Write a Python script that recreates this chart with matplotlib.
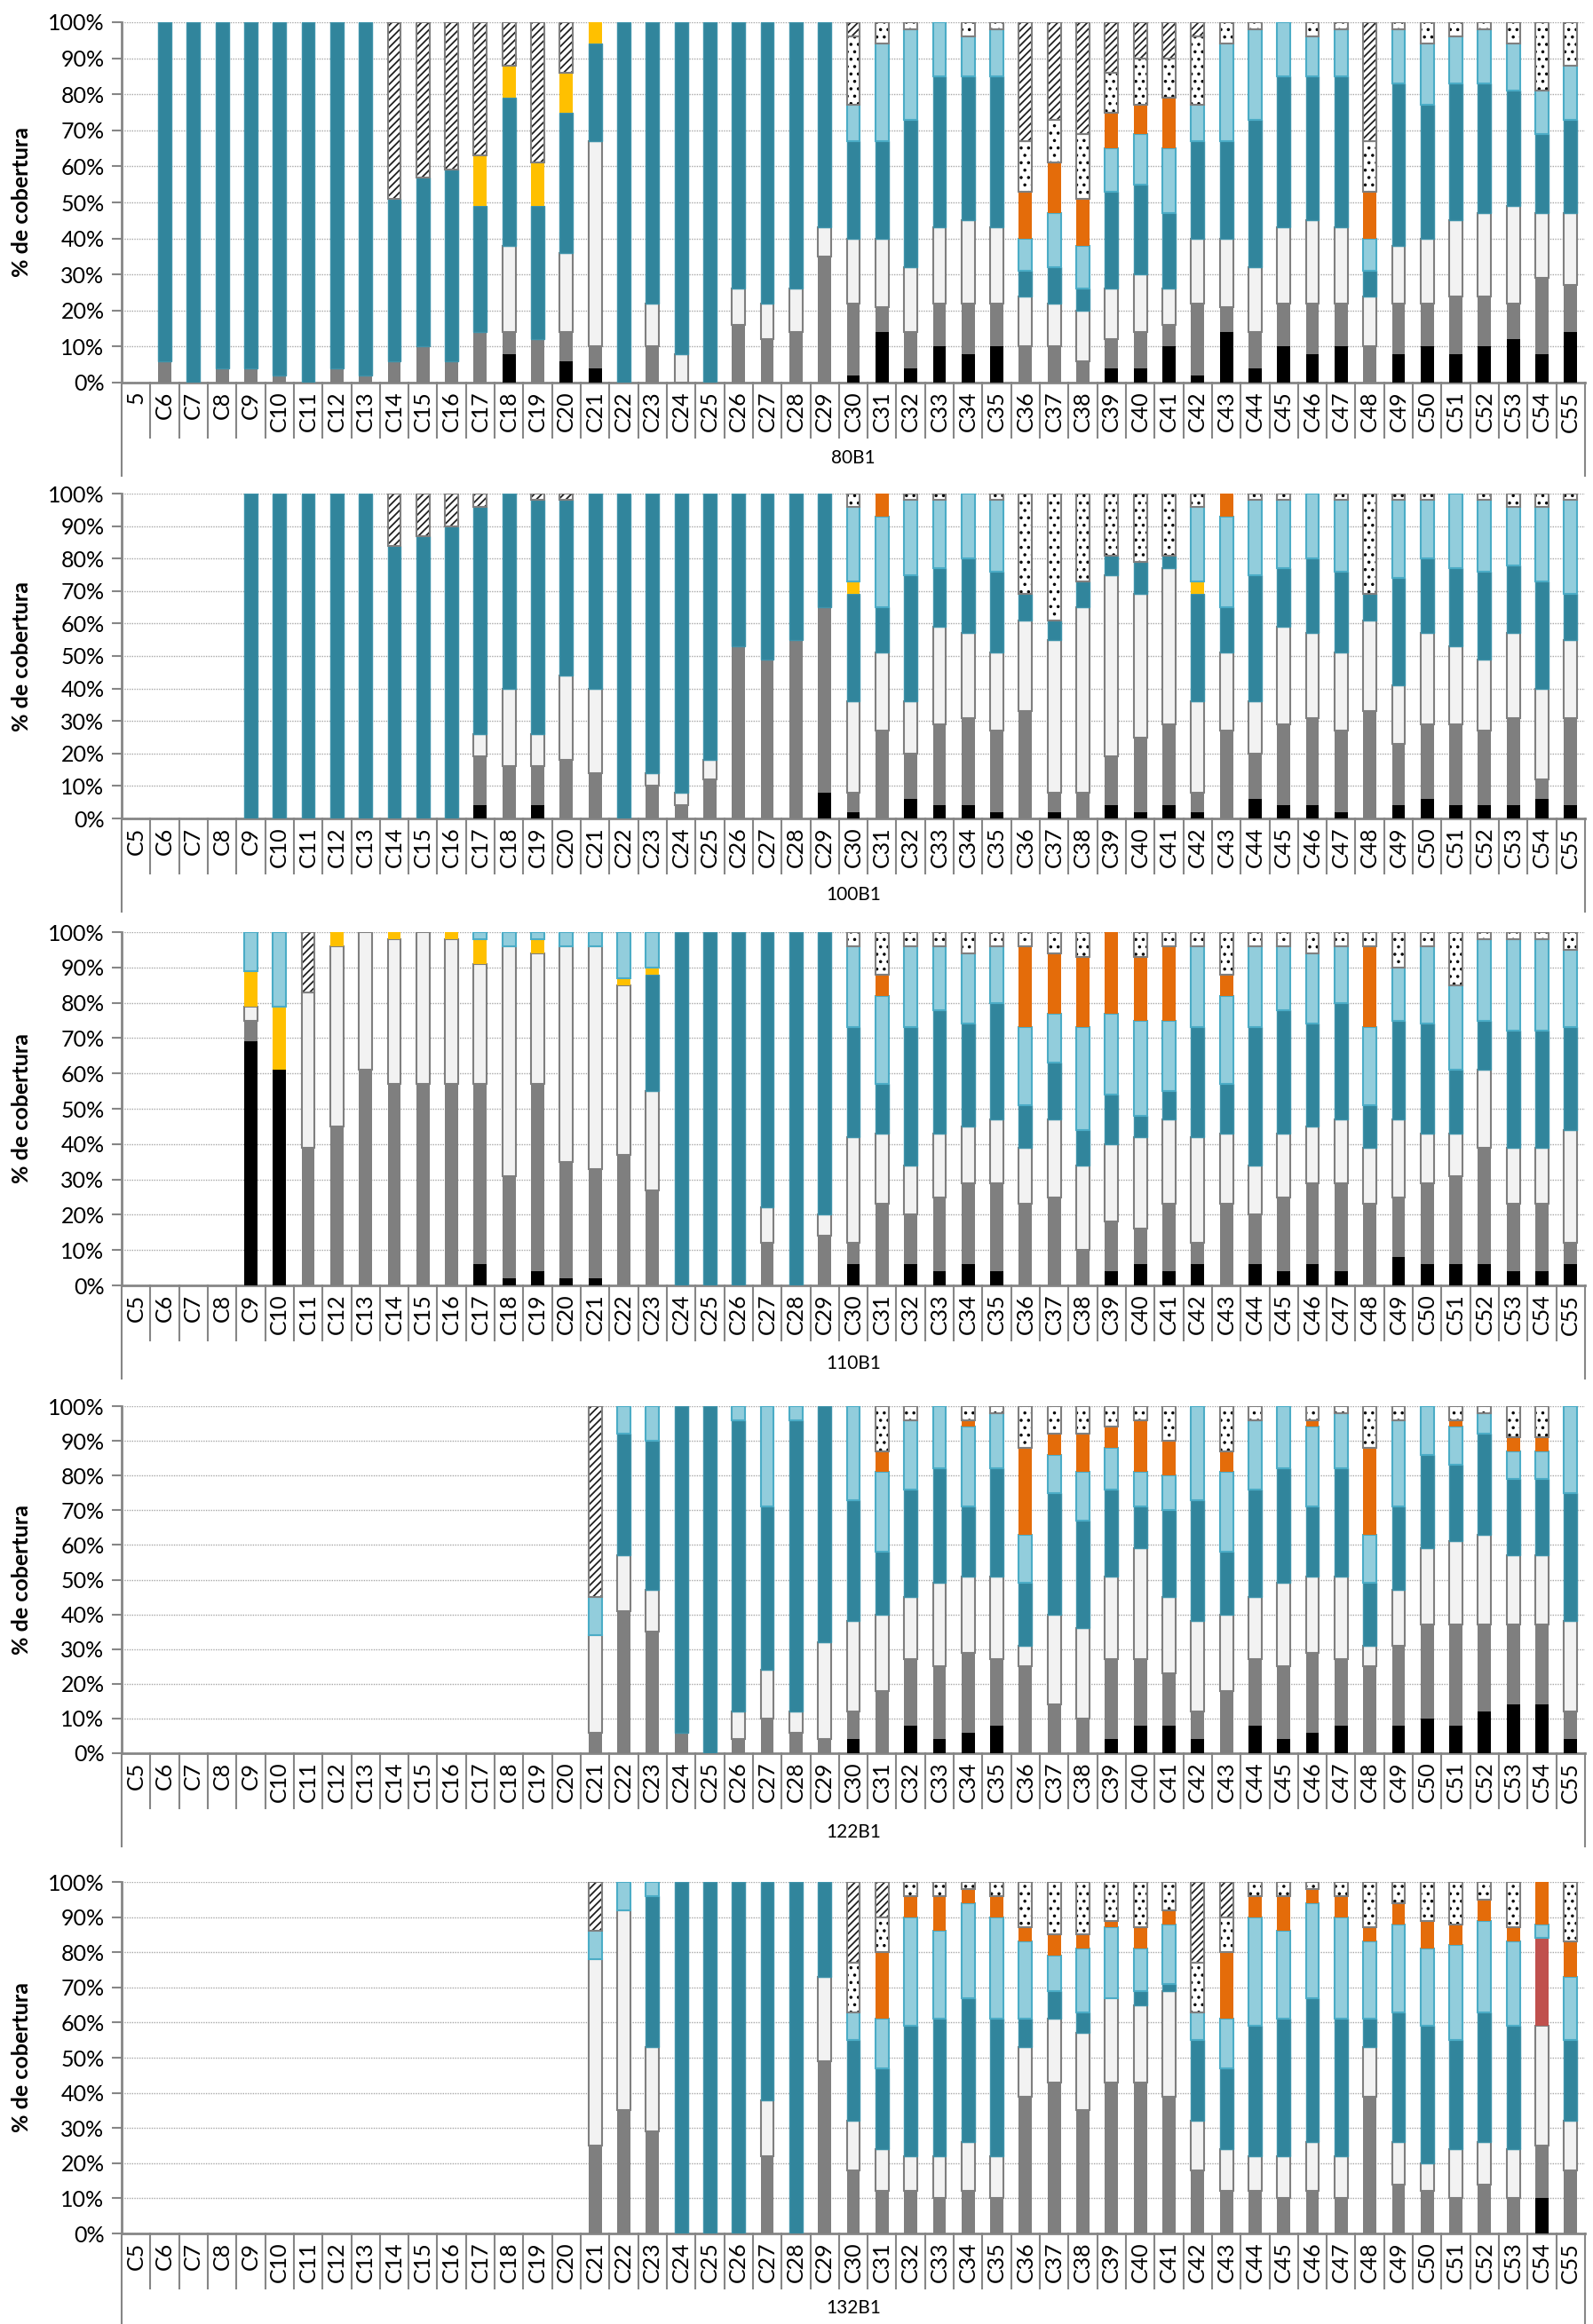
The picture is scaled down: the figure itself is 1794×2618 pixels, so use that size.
import numpy as np
import matplotlib
matplotlib.use('Agg')
import matplotlib.pyplot as plt
from matplotlib import transforms
from matplotlib.lines import Line2D

plt.rcParams['font.family'] = ['Lato', 'DejaVu Sans']
plt.rcParams['hatch.linewidth'] = 1.3

# ---------------- data ----------------
categories = [f"C{i}" for i in range(5, 56)]
groups = ['80B1', '100B1', '110B1', '122B1', '132B1']
ylabel_text = '% de cobertura'

# Panel 1 (80B1)
p1_black = [0]*13 + [8, 0, 6, 4] + [0]*8 + [2, 14, 4, 10, 8, 10, 0, 0, 0, 4, 4, 10, 2, 14, 4, 10, 8, 10, 0, 8, 10, 8, 10, 12, 8, 14]
p1_gray = [0, 6, 0, 4, 4, 2, 0, 4, 2, 6, 10, 6, 14, 6, 12, 8, 6, 0, 10, 0, 0, 16, 12, 14, 35] + [20, 7, 10, 12, 14, 12, 10, 10, 6, 8, 10, 6, 20, 7, 10, 12, 14, 12, 10, 14, 12, 16, 14, 10, 21, 13]
p1_white = [0]*13 + [24, 0, 22, 57] + [0, 12, 8, 0, 10, 10, 12, 8] + [18, 19, 18, 21, 23, 21, 14, 12, 14, 14, 16, 10, 18, 19, 18, 21, 23, 21, 14, 16, 18, 21, 23, 27, 18, 20]
p1_teal = [0, 94, 100, 96, 96, 98, 100, 96, 98, 45, 47, 53, 35, 41, 37, 39, 27, 100, 78, 92, 100, 74, 78, 74, 57] + [27, 27, 41, 42, 40, 42, 7, 10, 6, 27, 25, 21, 27, 27, 41, 42, 40, 42, 7, 45, 37, 38, 36, 32, 22, 26]
p1_yellow = [0]*12 + [14, 9, 12, 11, 6] + [0]*8 + [0]*26
p1_lblue = [0]*25 + [10, 27, 25, 15, 11, 13, 9, 15, 12, 12, 14, 18, 10, 27, 25, 15, 11, 13, 9, 15, 17, 13, 15, 13, 12, 15]
p1_orange = [0]*31 + [13, 14, 13, 10, 8, 14] + [0]*6 + [13] + [0]*7
p1_dots = [0]*25 + [19, 6, 2, 0, 4, 2, 14, 12, 18, 11, 13, 11, 19, 6, 2, 0, 4, 2, 14, 2, 6, 4, 2, 6, 19, 12]
p1_hatch = [0]*9 + [49, 43, 41, 37, 12, 39, 14, 0] + [0]*8 + [4, 0, 0, 0, 0, 0, 33, 27, 31, 14, 10, 10, 4, 0, 0, 0, 0, 0, 33, 0, 0, 0, 0, 0, 0, 0]

# Panel 2 (100B1)
p2_black = [0]*12 + [4, 0, 4] + [0]*9 + [8] + [2, 0, 6, 4, 4, 2, 0, 2, 0, 4, 2, 4, 2, 0, 6, 4, 4, 2, 0, 4, 6, 4, 4, 4, 6, 4]
p2_gray = [0]*12 + [15, 16, 12, 18, 14, 0, 10, 4, 12, 53, 49, 55, 57] + [6, 27, 14, 25, 27, 25, 33, 6, 8, 15, 23, 25, 6, 27, 14, 25, 27, 25, 33, 19, 23, 25, 23, 27, 6, 27]
p2_white = [0]*12 + [7, 24, 10, 26, 26, 0, 4, 4, 6, 0, 0, 0, 0] + [28, 24, 16, 30, 26, 24, 28, 47, 57, 56, 44, 48, 28, 24, 16, 30, 26, 24, 28, 18, 28, 24, 22, 26, 28, 24]
p2_teal = [0]*4 + [100, 100, 100, 100, 100, 84, 87, 90, 70, 60, 72, 54, 60, 100, 86, 92, 82, 47, 51, 45, 35] + [33, 14, 39, 18, 23, 25, 8, 6, 8, 6, 10, 4, 33, 14, 39, 18, 23, 25, 8, 33, 23, 24, 27, 21, 33, 14]
p2_yellow = [0]*25 + [4] + [0]*11 + [4] + [0]*13
p2_lblue = [0]*25 + [23, 28, 23, 21, 20, 22, 0, 0, 0, 0, 0, 0, 23, 28, 23, 21, 20, 22, 0, 24, 18, 23, 22, 18, 23, 29]
p2_orange = [0]*26 + [7] + [0]*11 + [7] + [0]*12
p2_dots = [0]*25 + [4, 0, 2, 2, 0, 2, 31, 39, 27, 19, 21, 19, 4, 0, 2, 2, 0, 2, 31, 2, 2, 0, 2, 4, 4, 2]
p2_hatch = [0]*9 + [16, 13, 10, 4, 0, 2, 2] + [0]*35

# Panel 3 (110B1)
p3_black = [0]*4 + [69, 61, 0, 0, 0, 0, 0, 0, 6, 2, 4, 2, 2] + [0]*8 + [6, 0, 6, 4, 6, 4, 0, 0, 0, 4, 6, 4, 6, 0, 6, 4, 6, 4, 0, 8, 6, 6, 6, 4, 4, 6]
p3_gray = [0]*4 + [6, 0, 39, 45, 61, 57, 57, 57, 51, 29, 53, 33, 31, 37, 27, 0, 0, 0, 12, 0, 14] + [6, 23, 14, 21, 23, 25, 23, 25, 10, 14, 10, 19, 6, 23, 14, 21, 23, 25, 23, 17, 23, 25, 33, 19, 19, 6]
p3_white = [0]*4 + [4, 0, 44, 51, 39, 41, 43, 41, 34, 65, 37, 61, 63, 48, 28, 0, 0, 0, 10, 0, 6] + [30, 20, 14, 18, 16, 18, 16, 22, 24, 22, 26, 24, 30, 20, 14, 18, 16, 18, 16, 22, 14, 12, 22, 16, 16, 32]
p3_teal = [0]*18 + [33, 100, 100, 100, 78, 100, 80] + [31, 14, 39, 35, 29, 33, 12, 16, 10, 14, 6, 8, 31, 14, 39, 35, 29, 33, 12, 28, 31, 18, 14, 33, 33, 29]
p3_yellow = [0]*4 + [10, 18, 0, 4, 0, 2, 0, 2, 7, 0, 4, 0, 0, 2, 2] + [0]*32
p3_lblue = [0]*4 + [11, 21, 0, 0, 0, 0, 0, 0, 2, 4, 2, 4, 4, 13, 10] + [0]*6 + [23, 25, 23, 18, 20, 16, 22, 14, 29, 23, 27, 20, 23, 25, 23, 18, 20, 16, 22, 15, 22, 24, 23, 26, 26, 22]
p3_orange = [0]*26 + [6, 0, 0, 0, 0, 23, 17, 20, 23, 18, 21, 0, 6, 0, 0, 0, 0, 23, 0, 0, 0, 0, 0, 0, 0]
p3_dots = [0]*25 + [4, 12, 4, 4, 6, 4, 4, 6, 7, 0, 7, 4, 4, 12, 4, 4, 6, 4, 4, 10, 4, 15, 2, 2, 2, 5]
p3_hatch = [0]*6 + [17] + [0]*44

# Panel 4 (122B1)
p4_black = [0]*25 + [4, 0, 8, 4, 6, 8, 0, 0, 0, 4, 8, 8, 4, 0, 8, 4, 6, 8, 0, 8, 10, 8, 12, 14, 14, 4]
p4_gray = [0]*16 + [6, 41, 35, 6, 0, 4, 10, 6, 4] + [8, 18, 19, 21, 23, 19, 25, 14, 10, 23, 19, 15, 8, 18, 19, 21, 23, 19, 25, 23, 27, 29, 25, 23, 23, 8]
p4_white = [0]*16 + [28, 16, 12, 0, 0, 8, 14, 6, 28] + [26, 22, 18, 24, 22, 24, 6, 26, 26, 24, 32, 22, 26, 22, 18, 24, 22, 24, 6, 16, 22, 24, 26, 20, 20, 26]
p4_teal = [0]*16 + [0, 35, 43, 94, 100, 84, 47, 84, 68] + [35, 18, 31, 33, 20, 31, 18, 35, 31, 25, 12, 25, 35, 18, 31, 33, 20, 31, 18, 24, 27, 22, 29, 22, 22, 37]
p4_lblue = [0]*16 + [11, 8, 10, 0, 0, 4, 29, 4, 0] + [27, 23, 20, 18, 23, 16, 14, 11, 14, 12, 10, 10, 27, 23, 20, 18, 23, 16, 14, 25, 14, 11, 6, 8, 8, 25]
p4_orange = [0]*26 + [6, 0, 0, 2, 0, 25, 6, 11, 6, 15, 10, 0, 6, 0, 0, 2, 0, 25, 0, 0, 2, 0, 4, 4, 0]
p4_dots = [0]*25 + [0, 13, 4, 0, 4, 2, 12, 8, 8, 6, 4, 10, 0, 13, 4, 0, 4, 2, 12, 4, 0, 4, 2, 9, 9, 0]
p4_hatch = [0]*16 + [55] + [0]*34

# Panel 5 (132B1)
p5_black = [0]*49 + [10, 0]
p5_gray = [0]*16 + [25, 35, 29, 0, 0, 0, 22, 0, 49] + [18, 12, 12, 10, 12, 10, 39, 43, 35, 43, 43, 39, 18, 12, 12, 10, 12, 10, 39, 14, 12, 10, 14, 10, 15, 18]
p5_white = [0]*16 + [53, 57, 24, 0, 0, 0, 16, 0, 24] + [14, 12, 10, 12, 14, 12, 14, 18, 22, 24, 22, 30, 14, 12, 10, 12, 14, 12, 14, 12, 8, 14, 12, 14, 34, 14]
p5_teal = [0]*16 + [0, 0, 43, 100, 100, 100, 62, 100, 27] + [23, 23, 37, 39, 41, 39, 8, 8, 6, 0, 4, 2, 23, 23, 37, 39, 41, 39, 8, 37, 39, 31, 37, 35, 0, 23]
p5_red = [0]*49 + [25, 0]
p5_lblue = [0]*16 + [8, 8, 4, 0, 0, 0, 0, 0, 0] + [8, 14, 31, 25, 27, 29, 22, 10, 18, 20, 12, 17, 8, 14, 31, 25, 27, 29, 22, 25, 22, 27, 26, 24, 4, 18]
p5_orange = [0]*26 + [19, 6, 10, 4, 6, 4, 6, 4, 2, 6, 4, 0, 19, 6, 10, 4, 6, 4, 6, 8, 6, 6, 4, 12, 10]
p5_dots = [0]*25 + [14, 10, 4, 4, 2, 4, 13, 15, 15, 11, 13, 8, 14, 10, 4, 4, 2, 4, 13, 6, 11, 12, 5, 13, 0, 17]
p5_hatch = [0]*16 + [14] + [0]*8 + [23, 10] + [0]*10 + [23, 10] + [0]*12

panels = [
    dict(black=p1_black, gray=p1_gray, white=p1_white, teal=p1_teal, yellow=p1_yellow,
         lblue=p1_lblue, orange=p1_orange, dots=p1_dots, hatch=p1_hatch),
    dict(black=p2_black, gray=p2_gray, white=p2_white, teal=p2_teal, yellow=p2_yellow,
         lblue=p2_lblue, orange=p2_orange, dots=p2_dots, hatch=p2_hatch),
    dict(black=p3_black, gray=p3_gray, white=p3_white, teal=p3_teal, yellow=p3_yellow,
         lblue=p3_lblue, orange=p3_orange, dots=p3_dots, hatch=p3_hatch),
    dict(black=p4_black, gray=p4_gray, white=p4_white, teal=p4_teal,
         lblue=p4_lblue, orange=p4_orange, dots=p4_dots, hatch=p4_hatch),
    dict(black=p5_black, gray=p5_gray, white=p5_white, teal=p5_teal, red=p5_red,
         lblue=p5_lblue, orange=p5_orange, dots=p5_dots, hatch=p5_hatch),
]

layer_order = ['black', 'gray', 'white', 'teal', 'red', 'yellow', 'lblue', 'orange', 'dots', 'hatch']

style = {
    'black':  dict(facecolor='#000000', edgecolor='none', linewidth=0),
    'gray':   dict(facecolor='#7f7f7f', edgecolor='none', linewidth=0),
    'white':  dict(facecolor='#f2f2f2', edgecolor='#7f7f7f', linewidth=1.5),
    'teal':   dict(facecolor='#31859c', edgecolor='#3f93aa', linewidth=1.0),
    'red':    dict(facecolor='#c0504d', edgecolor='none', linewidth=0),
    'yellow': dict(facecolor='#ffc000', edgecolor='none', linewidth=0),
    'lblue':  dict(facecolor='#92cddc', edgecolor='#4bacc6', linewidth=1.5),
    'orange': dict(facecolor='#e46c0a', edgecolor='none', linewidth=0),
    'dots':   dict(facecolor='white', edgecolor='black', linewidth=0, hatch='..'),
    'hatch':  dict(facecolor='white', edgecolor='#202020', linewidth=0, hatch='////'),
}

# ---------------- layout ----------------
W, H = 1794, 2618
fig = plt.figure(figsize=(W / 100, H / 100), dpi=100)
panel_px = [(25, 431, 516), (556, 922, 1008), (1050, 1448, 1536), (1584, 1975, 2064), (2120, 2516, 2600)]
left_px, right_px = 137, 1785
AXC = '#868686'
n = len(categories)
x = np.arange(n)
bw = 0.46

for pi, (top, bot, gy) in enumerate(panel_px):
    data = panels[pi]
    for key, arr in data.items():
        if len(arr) != n:
            raise ValueError(f"panel {pi+1} {key} has {len(arr)}")
    ax = fig.add_axes([left_px / W, 1 - bot / H, (right_px - left_px) / W, (bot - top) / H])
    bottom = np.zeros(n)
    for layer in layer_order:
        if layer not in data:
            continue
        h = np.array(data[layer], dtype=float)
        m = h > 0
        if m.any():
            ax.bar(x[m], h[m], bw, bottom=bottom[m], zorder=3, **style[layer])
            if layer in ('dots', 'hatch'):
                ax.bar(x[m], h[m], bw, bottom=bottom[m], fill=False,
                       edgecolor='#7f7f7f', linewidth=1.5, zorder=4)
        bottom = bottom + h

    ax.set_xlim(-0.5, n - 0.5)
    ax.set_ylim(0, 100)
    ax.set_yticks(np.arange(0, 101, 10))
    ax.set_yticklabels([f"{v}%" for v in range(0, 101, 10)], fontsize=18)
    ax.yaxis.grid(True, linestyle=(0, (1, 1)), color='#a8a8a8', linewidth=1.0, zorder=0)
    ax.set_axisbelow(True)
    labels = list(categories)
    if pi == 0:
        labels[0] = '5'
    ax.set_xticks(x)
    ax.set_xticklabels(labels, rotation=90, fontsize=18)
    ax.tick_params(axis='x', length=0, pad=7)
    ax.tick_params(axis='y', direction='out', length=8, width=1.5, color=AXC, pad=6)
    for s in ('top', 'right'):
        ax.spines[s].set_visible(False)
    for s in ('left', 'bottom'):
        ax.spines[s].set_color(AXC)
        ax.spines[s].set_linewidth(2)

    ph = bot - top
    trans = transforms.blended_transform_factory(ax.transData, ax.transAxes)
    for b in np.arange(-0.5, n, 1.0):
        L = 105 if (b == -0.5 or b == n - 0.5) else 62
        ax.add_line(Line2D([b, b], [0, -L / ph], transform=trans, color=AXC,
                           linewidth=1.5, clip_on=False))

    fig.text(((left_px + right_px) / 2) / W, 1 - gy / H, groups[pi],
             ha='center', va='center', fontsize=15)
    fig.text(25 / W, 1 - ((top + bot) / 2) / H, ylabel_text, rotation=90,
             ha='center', va='center', fontsize=18, fontweight='bold')

fig.savefig('out.png', dpi=100)
